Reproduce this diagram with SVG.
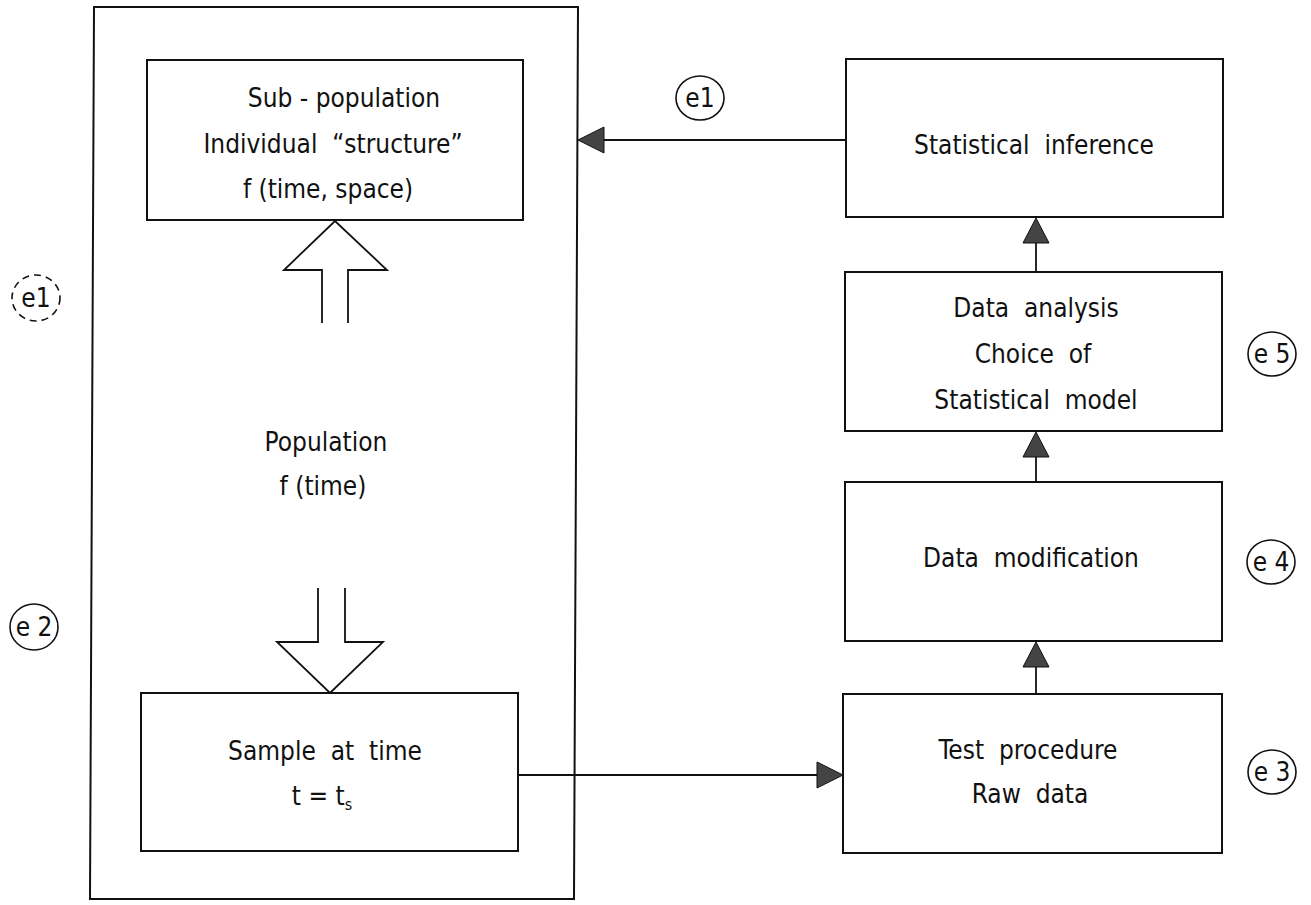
<svg xmlns="http://www.w3.org/2000/svg" width="1311" height="905" viewBox="0 0 1311 905">
<style>
  .box{fill:none;stroke:#111;stroke-width:2}
  .ln{fill:none;stroke:#111;stroke-width:1.8}
  .hollow{fill:#fff;stroke:#111;stroke-width:1.8;stroke-linejoin:miter}
  .head{fill:#444;stroke:#111;stroke-width:1}
  .t{font-family:"DejaVu Sans Condensed","DejaVu Sans","Liberation Sans",sans-serif;font-stretch:condensed;font-size:26px;fill:#111;text-anchor:middle;dominant-baseline:central;white-space:pre}
  .c{fill:none;stroke:#111;stroke-width:1.6}
  .cd{fill:none;stroke:#111;stroke-width:1.6;stroke-dasharray:7 5}
</style>
<rect x="0" y="0" width="1311" height="905" fill="#fff"/>

<g id="frame">
  <path class="box" d="M94,7 L578,7 L574,899 L90,899 Z"/>
</g>

<g id="subpopulation">
  <rect class="box" x="147" y="60" width="376" height="160"/>
  <text class="t" x="344" y="98">Sub - population</text>
  <text class="t" x="333" y="144">Individual  “structure”</text>
  <text class="t" x="328" y="189">f (time, space)</text>
</g>

<g id="population">
  <text class="t" x="326" y="442">Population</text>
  <text class="t" x="323" y="486">f (time)</text>
</g>

<g id="sample">
  <rect class="box" x="141" y="693" width="377" height="158"/>
  <text class="t" x="325" y="751">Sample  at  time</text>
  <text class="t" x="322" y="796">t = t<tspan font-size="16" dy="8">s</tspan></text>
</g>

<g id="inference">
  <rect class="box" x="846" y="59" width="377" height="158"/>
  <text class="t" x="1034" y="145">Statistical  inference</text>
</g>

<g id="analysis">
  <rect class="box" x="845" y="272" width="377" height="159"/>
  <text class="t" x="1036" y="308">Data  analysis</text>
  <text class="t" x="1033" y="354">Choice  of</text>
  <text class="t" x="1036" y="400">Statistical  model</text>
</g>

<g id="modification">
  <rect class="box" x="845" y="482" width="377" height="159"/>
  <text class="t" x="1031" y="558">Data  modification</text>
</g>

<g id="testprocedure">
  <rect class="box" x="843" y="694" width="379" height="159"/>
  <text class="t" x="1028" y="750">Test  procedure</text>
  <text class="t" x="1030" y="794">Raw  data</text>
</g>

<g id="labels">
  <ellipse class="c" cx="700" cy="98" rx="24" ry="22"/>
  <text class="t" x="700" y="98">e1</text>
  <ellipse class="cd" cx="36" cy="298" rx="24" ry="23"/>
  <text class="t" x="36" y="298">e1</text>
  <ellipse class="c" cx="34" cy="627" rx="24" ry="23"/>
  <text class="t" x="34" y="627">e 2</text>
  <ellipse class="c" cx="1272" cy="354" rx="24" ry="22"/>
  <text class="t" x="1272" y="354">e 5</text>
  <ellipse class="c" cx="1271" cy="562" rx="24" ry="22"/>
  <text class="t" x="1271" y="562">e 4</text>
  <ellipse class="c" cx="1272" cy="772" rx="24" ry="22"/>
  <text class="t" x="1272" y="772">e 3</text>
</g>

<g id="connectors">
  <path class="hollow" d="M322,323 L322,270 L284,270 L335,221 L387,270 L348,270 L348,323"/>
  <path class="hollow" d="M318,588 L318,642 L277,642 L330,693 L383,642 L345,642 L345,588"/>
  <line class="ln" x1="846" y1="140" x2="600" y2="140"/>
  <polygon class="head" points="578,140 604,127 604,153"/>
  <line class="ln" x1="518" y1="775" x2="820" y2="775"/>
  <polygon class="head" points="843,775 817,762 817,788"/>
  <line class="ln" x1="1036" y1="694" x2="1036" y2="660"/>
  <polygon class="head" points="1036,642 1023,667 1049,667"/>
  <line class="ln" x1="1036" y1="482" x2="1036" y2="450"/>
  <polygon class="head" points="1036,432 1023,457 1049,457"/>
  <line class="ln" x1="1036" y1="272" x2="1036" y2="236"/>
  <polygon class="head" points="1036,218 1023,243 1049,243"/>
</g>
</svg>
